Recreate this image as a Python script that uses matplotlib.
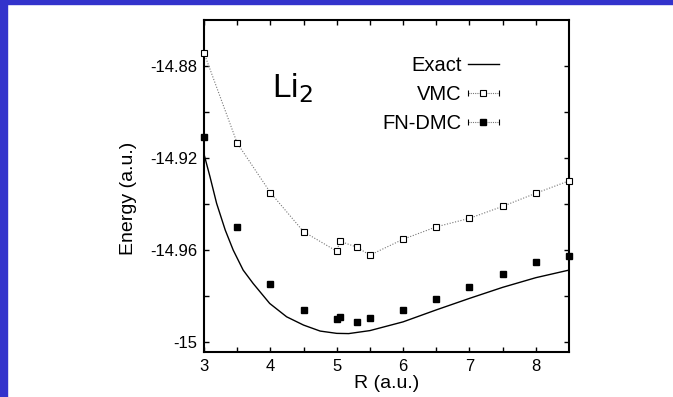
import matplotlib.pyplot as plt
from matplotlib.lines import Line2D
from matplotlib.legend_handler import HandlerLine2D, HandlerTuple
from matplotlib.patches import Rectangle

plt.rcParams['font.family'] = ['Liberation Sans', 'DejaVu Sans']
plt.rcParams['axes.unicode_minus'] = False

# Exact curve
exact_r = [3.0, 3.09, 3.19, 3.32, 3.44, 3.59, 3.74, 3.99, 4.245, 4.5, 4.75,
           5.0, 5.18, 5.5, 6.0, 6.5, 7.0, 7.5, 8.0, 8.5]
exact_e = [-14.9183, -14.9281, -14.9397, -14.9513, -14.960, -14.9687, -14.9745,
           -14.9832, -14.989, -14.9926, -14.9952, -14.9962, -14.9963, -14.995,
           -14.9912, -14.986, -14.981, -14.9762, -14.972, -14.9687]

# VMC points
vmc_r = [3.0, 3.5, 4.0, 4.5, 5.0, 5.05, 5.3, 5.5, 6.0, 6.5, 7.0, 7.5, 8.0, 8.5]
vmc_e = [-14.8743, -14.9135, -14.935, -14.952, -14.9605, -14.9562, -14.9587,
         -14.9622, -14.9553, -14.9499, -14.9462, -14.941, -14.9353, -14.9299]

# FN-DMC points
dmc_r = [3.0, 3.5, 4.0, 4.5, 5.0, 5.05, 5.3, 5.5, 6.0, 6.5, 7.0, 7.5, 8.0, 8.5]
dmc_e = [-14.911, -14.950, -14.9748, -14.986, -14.990, -14.9893, -14.9913,
         -14.9896, -14.986, -14.9814, -14.9761, -14.9703, -14.965, -14.9627]

xticks = [3, 4, 5, 6, 7, 8]
yticks = [-15.0, -14.96, -14.92, -14.88]
ytick_labels = ['-15', '-14.96', '-14.92', '-14.88']

fig = plt.figure(figsize=(6.73, 3.97), dpi=100)
ax = fig.add_axes([204 / 673, 1 - 352 / 397, 365 / 673, 332 / 397])

# blue slide border
fig.patches.append(Rectangle((0, 0), 7 / 673, 1, transform=fig.transFigure,
                             color='#3333cc', zorder=0))
fig.patches.append(Rectangle((0, 1 - 4 / 397), 1, 4 / 397, transform=fig.transFigure,
                             color='#3333cc', zorder=0))

ax.plot(exact_r, exact_e, color='black', lw=1.0, clip_on=False)
ax.plot(vmc_r, vmc_e, color='#777777', lw=0.8, linestyle=(0, (1, 1.5)),
        marker='s', markersize=3.8, markerfacecolor='white',
        markeredgecolor='black', markeredgewidth=0.8, clip_on=False, zorder=3)
ax.plot(dmc_r, dmc_e, linestyle='none', marker='s', markersize=3.8,
        color='black', clip_on=False, zorder=3)

ax.set_xlim(3, 8.5)
ax.set_ylim(-15.0043, -14.86)
ax.set_xticks(xticks)
ax.set_xticklabels([str(t) for t in xticks])
ax.set_xticks([3.5, 4.5, 5.5, 6.5, 7.5], minor=True)
ax.set_yticks(yticks)
ax.set_yticklabels(ytick_labels)
ax.set_yticks([-14.98, -14.94, -14.90], minor=True)
ax.tick_params(which='both', direction='in', top=True, right=True,
               length=3.5, width=1.0, labelsize=12, pad=5)
for sp in ax.spines.values():
    sp.set_linewidth(1.5)

ax.set_xlabel('R (a.u.)', fontsize=14, labelpad=1)
ax.set_ylabel('Energy (a.u.)', fontsize=14)
ax.yaxis.set_label_coords(-0.184, 0.464)

ax.text(272 / 673, 1 - 97 / 397, r'Li$_2$', transform=fig.transFigure,
        fontsize=24, ha='left', va='baseline')

# legend with gnuplot-like errorbar caps
h_exact = Line2D([], [], color='black', lw=1.0)
h_vmc = Line2D([], [], color='#777777', lw=0.8, linestyle=(0, (1, 1)), marker='s',
               markersize=3.8, markerfacecolor='white', markeredgecolor='black',
               markeredgewidth=0.8)
h_dmc = Line2D([], [], color='#777777', lw=0.8, linestyle=(0, (1, 1)), marker='s',
               markersize=3.8, markerfacecolor='black', markeredgecolor='black')
cap1 = Line2D([], [], linestyle='none', marker='|', markersize=4, color='black',
              markeredgewidth=0.8)
cap2 = Line2D([], [], linestyle='none', marker='|', markersize=4, color='black',
              markeredgewidth=0.8)
hmap = {cap1: HandlerLine2D(numpoints=2, marker_pad=0),
        cap2: HandlerLine2D(numpoints=2, marker_pad=0),
        tuple: HandlerTuple(ndivide=1)}
fig.legend([h_exact, (h_vmc, cap1), (h_dmc, cap2)], ['Exact', 'VMC', 'FN-DMC'],
           loc='upper right', bbox_to_anchor=(499 / 673, 1 - 56 / 397),
           frameon=False, markerfirst=False, fontsize=14.5, numpoints=1,
           handlelength=1.55, handletextpad=0.3, labelspacing=0.5,
           borderpad=0, borderaxespad=0, handler_map=hmap)

fig.savefig('out.png', dpi=100)
